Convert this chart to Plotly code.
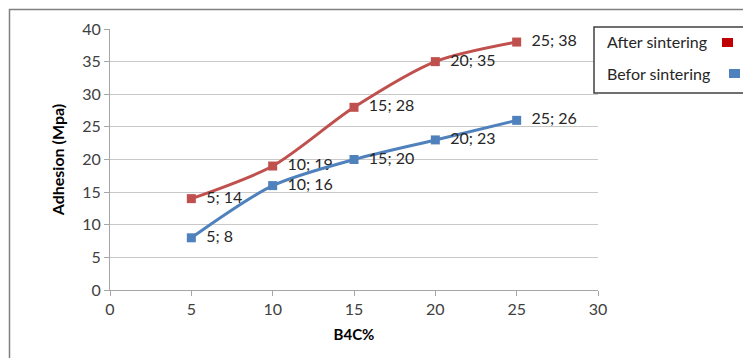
import plotly.graph_objects as go

x_vals = [5, 10, 15, 20, 25]
after_sintering = [14, 19, 28, 35, 38]
befor_sintering = [8, 16, 20, 23, 26]
series_names = ["After sintering", "Befor sintering"]

# page body has an 8px margin, so work in screen pixels and shift by 8
OFF = 8
W, H = 751 - OFF, 358 - OFF
L, R, T, B = 110 - OFF, 598 - OFF, 29 - OFF, 290 - OFF

def px(x):
    return (x - OFF - L) / (R - L)

def py(y):
    return (B - (y - OFF)) / (B - T)

FONT = "Lato, 'Liberation Sans', sans-serif"
RED = "#C0504D"
BLUE = "#4F81BD"

def labels(xs, ys):
    return ["%d; %d" % (a, b) for a, b in zip(xs, ys)]

fig = go.Figure()
for ys, name, col in [(after_sintering, series_names[0], RED),
                      (befor_sintering, series_names[1], BLUE)]:
    fig.add_trace(go.Scatter(
        x=x_vals, y=ys, mode="lines+markers+text",
        name=name,
        line=dict(color=col, width=3, shape="spline", smoothing=0.8),
        marker=dict(symbol="square", size=9, color=col),
        text=["  " + t for t in labels(x_vals, ys)],
        textposition="middle right",
        textfont=dict(family=FONT, size=16, color="#262626"),
        cliponaxis=False,
    ))

shapes = [
    # outer chart border (extends past window)
    dict(type="rect", xref="paper", yref="paper",
         x0=px(9.5), x1=px(820), y0=py(420), y1=py(9.5),
         line=dict(color="#7F7F7F", width=1.5), fillcolor="rgba(0,0,0,0)", layer="below"),
    # legend box
    dict(type="rect", xref="paper", yref="paper",
         x0=px(594), x1=px(747), y0=py(93), y1=py(27),
         line=dict(color="#404040", width=1.5), fillcolor="white"),
    # legend markers
    dict(type="rect", xref="paper", yref="paper",
         x0=px(722), x1=px(733), y0=py(47), y1=py(38),
         line=dict(width=0), fillcolor="#C00000"),
    dict(type="rect", xref="paper", yref="paper",
         x0=px(729), x1=px(740), y0=py(78), y1=py(69),
         line=dict(width=0), fillcolor=BLUE),
]

annotations = [
    dict(text=series_names[0], xref="paper", yref="paper", x=px(605), y=py(42),
         xanchor="left", yanchor="middle", showarrow=False,
         font=dict(family=FONT, size=16, color="#262626")),
    dict(text=series_names[1], xref="paper", yref="paper", x=px(605), y=py(73),
         xanchor="left", yanchor="middle", showarrow=False,
         font=dict(family=FONT, size=16, color="#262626")),
]

fig.update_layout(
    width=W, height=H,
    margin=dict(l=L, r=W - R, t=T, b=H - B, autoexpand=False),
    paper_bgcolor="white", plot_bgcolor="white",
    showlegend=False,
    shapes=shapes, annotations=annotations,
    font=dict(family=FONT, size=16, color="#404040"),
    xaxis=dict(
        range=[0, 30], tickmode="linear", dtick=5,
        showgrid=False, zeroline=False,
        showline=True, linecolor="#A6A6A6", linewidth=1,
        ticks="outside", ticklen=5, tickcolor="#A6A6A6",
        tickfont=dict(family=FONT, size=16, color="#404040"),
        title=dict(text="<b>B4C%</b>", font=dict(family=FONT, size=15, color="#000000"), standoff=12),
    ),
    yaxis=dict(
        range=[0, 40], tickmode="linear", dtick=5,
        showgrid=True, gridcolor="#C8C8C8", gridwidth=1,
        zeroline=False,
        showline=True, linecolor="#A6A6A6", linewidth=1,
        ticks="outside", ticklen=5, tickcolor="#A6A6A6",
        tickfont=dict(family=FONT, size=16, color="#404040"),
        title=dict(text="<b>Adhesion (Mpa)</b>", font=dict(family=FONT, size=16, color="#000000"), standoff=13),
    ),
)

fig.write_html("out.html")
